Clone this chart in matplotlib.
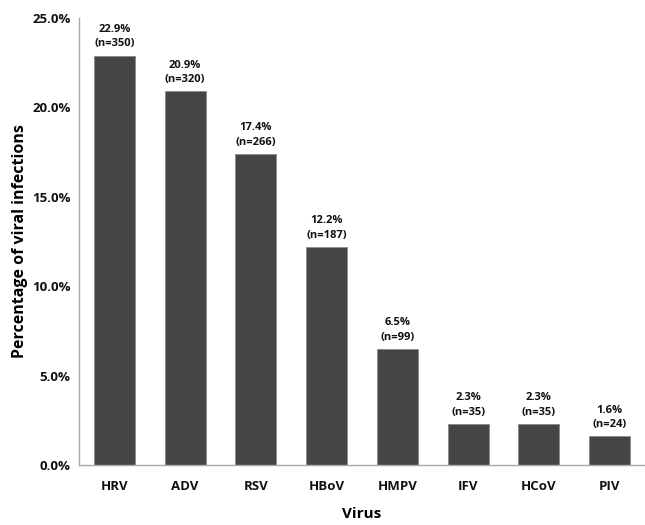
import matplotlib
matplotlib.use("Agg")
import matplotlib.pyplot as plt
from matplotlib.ticker import FuncFormatter

viruses = ["HRV", "ADV", "RSV", "HBoV", "HMPV", "IFV", "HCoV", "PIV"]
percentages = [22.9, 20.9, 17.4, 12.2, 6.5, 2.3, 2.3, 1.6]
counts = [350, 320, 266, 187, 99, 35, 35, 24]

plt.rcParams['font.family'] = ['Open Sans', 'DejaVu Sans']

fig = plt.figure(figsize=(6.45, 5.25), dpi=100)
ax = fig.add_axes([0.1225, 0.1143, 0.8775, 0.8514])

x = range(len(viruses))
ax.bar(x, percentages, width=0.58, color="#454545", edgecolor="#8a8a8a", linewidth=0.6, zorder=2)

for xi, p, n in zip(x, percentages, counts):
    ax.text(xi, p + 0.35, f"{p:.1f}%\n(n={n})", ha="center", va="bottom",
            fontsize=8, fontweight="bold", linespacing=1.4, color="#111111")

ax.set_xlim(-0.5, len(viruses) - 0.5)
ax.set_ylim(0, 25)
ax.set_yticks([0, 5, 10, 15, 20, 25])
ax.yaxis.set_major_formatter(FuncFormatter(lambda v, _: f"{v:.1f}%"))
ax.set_xticks(list(x))
ax.set_xticklabels(viruses)

for lbl in ax.get_xticklabels() + ax.get_yticklabels():
    lbl.set_fontweight("bold")
    lbl.set_fontsize(9.5)
    lbl.set_color("#111111")

ax.tick_params(axis="both", length=0)
ax.tick_params(axis="x", pad=11)
ax.tick_params(axis="y", pad=6)

for s in ["top", "right"]:
    ax.spines[s].set_visible(False)
for s in ["left", "bottom"]:
    ax.spines[s].set_color("#a8a8a8")
    ax.spines[s].set_linewidth(1.0)

ax.set_xlabel("Virus", fontsize=11, fontweight="bold", labelpad=10)
ax.set_ylabel("Percentage of viral infections", fontsize=11.5, fontweight="bold", labelpad=3)

fig.savefig("out.png", dpi=100, facecolor="white")
